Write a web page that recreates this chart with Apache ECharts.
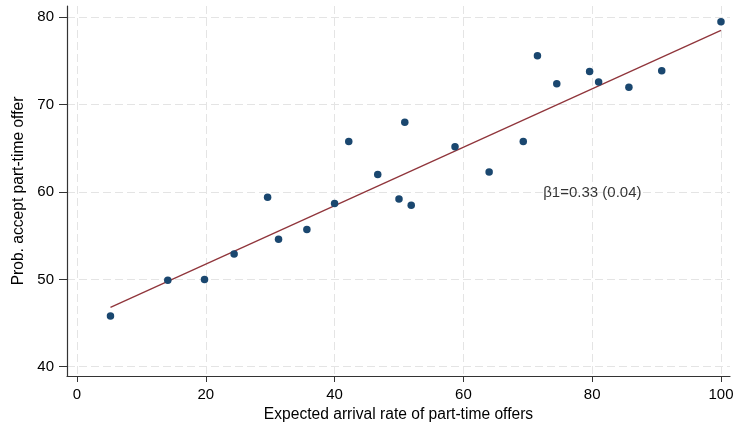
<!DOCTYPE html>
<html>
<head>
<meta charset="utf-8">
<script src="https://cdn.jsdelivr.net/npm/echarts@6/dist/echarts.min.js"></script>
<style>
  html, body { margin: 0; padding: 0; background: #fff; }
  #chart { width: 737px; height: 428px; }
</style>
</head>
<body>
<div id="chart"></div>
<script>
// Binned scatter: expected arrival rate vs. probability of accepting a part-time offer
const arrivalRate = [5.2, 14.1, 19.8, 24.4, 29.6, 31.3, 35.7, 40.0, 42.2, 46.7, 50.9, 50.0, 51.9,
                     58.7, 64.0, 69.3, 71.5, 74.5, 79.6, 81.0, 85.7, 90.8, 100.0];
const acceptProb  = [45.8, 49.9, 50.0, 52.9, 59.4, 54.6, 55.7, 58.7, 65.8, 62.0, 68.0, 59.2, 58.5,
                     65.2, 62.3, 65.8, 75.6, 72.4, 73.8, 72.6, 72.0, 73.9, 79.5];

// Fitted regression line endpoints
const fitX = [5.2, 100];
const fitY = [46.8, 78.5];

// Slope annotation
const slopeText = 'β1=0.33 (0.04)';
const slopeAt = [72.4, 59.9];

const xTicks = [0, 20, 40, 60, 80, 100];
const yTicks = [40, 50, 60, 70, 80];

const fontFamily = '"Liberation Sans", Arial, Helvetica, sans-serif';
const gridLine = { show: true, lineStyle: { color: '#e4e4e4', type: [8, 4], width: 1 } };

const chart = echarts.init(document.getElementById('chart'), null, { renderer: 'canvas' });
chart.setOption({
  animation: false,
  backgroundColor: '#ffffff',
  textStyle: { fontFamily: fontFamily },
  grid: { left: 67, right: 7, top: 6, bottom: 52, containLabel: false, outerBoundsMode: 'none' },
  xAxis: {
    type: 'value',
    min: -1.55,
    max: 101.4,
    name: 'Expected arrival rate of part-time offers',
    nameLocation: 'middle',
    nameGap: 31,
    nameTextStyle: { fontSize: 15.6, color: '#000', fontFamily: fontFamily },
    axisLine: { show: true, onZero: false, lineStyle: { color: '#333', width: 1.2 } },
    axisTick: { show: true, length: 6, customValues: xTicks, lineStyle: { color: '#333' } },
    axisLabel: { customValues: xTicks, fontSize: 15, color: '#000', margin: 11, fontFamily: fontFamily },
    splitLine: gridLine
  },
  yAxis: {
    type: 'value',
    min: 38.94,
    max: 81.3,
    name: 'Prob. accept part-time offer',
    nameLocation: 'middle',
    nameGap: 33,
    nameRotate: 90,
    nameTextStyle: { fontSize: 15.6, color: '#000', fontFamily: fontFamily },
    axisLine: { show: true, onZero: false, lineStyle: { color: '#333', width: 1.2 } },
    axisTick: { show: true, length: 8, customValues: yTicks, lineStyle: { color: '#333' } },
    axisLabel: { customValues: yTicks, fontSize: 15, color: '#000', margin: 13, fontFamily: fontFamily },
    splitLine: gridLine
  },
  series: [
    {
      type: 'line',
      data: fitX.map((x, i) => [x, fitY[i]]),
      showSymbol: false,
      lineStyle: { color: '#90353b', width: 1.3 },
      z: 2
    },
    {
      type: 'scatter',
      data: arrivalRate.map((x, i) => [x, acceptProb[i]]),
      symbolSize: 7.5,
      itemStyle: { color: '#1a476f', opacity: 1 },
      z: 3
    },
    {
      type: 'scatter',
      data: [slopeAt],
      symbolSize: 0,
      silent: true,
      label: {
        show: true,
        position: 'right',
        distance: 0,
        formatter: slopeText,
        fontSize: 15,
        color: '#000',
        fontFamily: fontFamily
      },
      z: 4
    }
  ]
});
</script>
</body>
</html>
